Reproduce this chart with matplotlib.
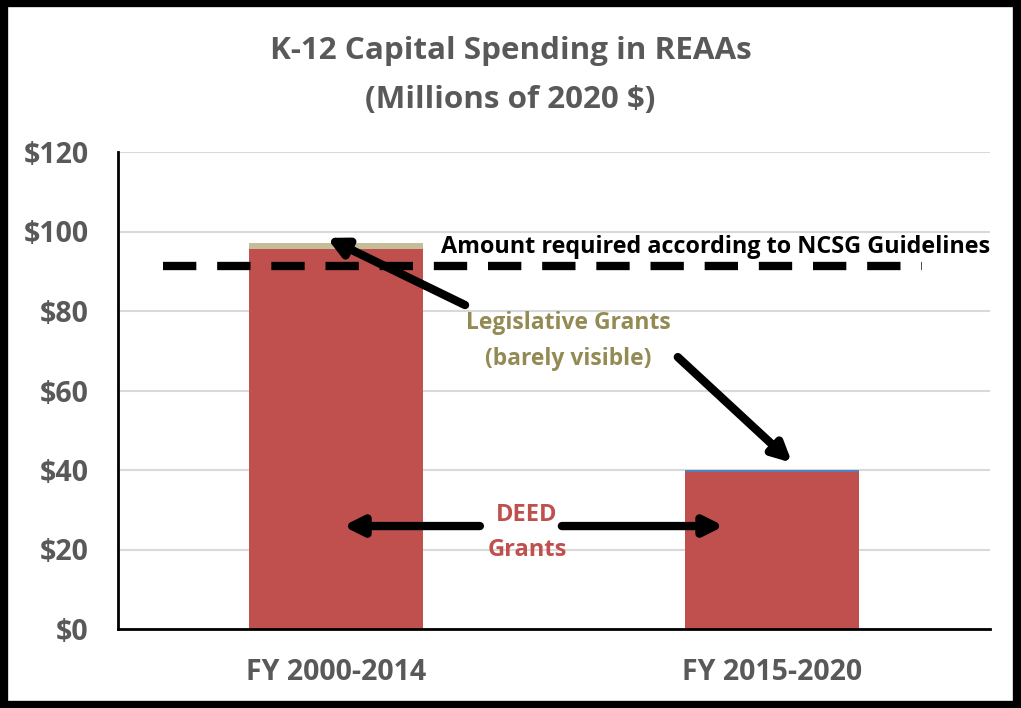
import matplotlib
matplotlib.use("Agg")
import matplotlib.pyplot as plt
from matplotlib.patches import Rectangle

# spending in millions of 2020 dollars
periods = ["FY 2000-2014", "FY 2015-2020"]
deed_grants = [95.7, 39.5]
legislative_grants = [1.5, 0.0]
other_grants = [0.0, 0.6]
ncsg_required = 91.2

red = "#C0504D"
tan = "#C4BD97"
blue = "#4F81BD"
gray = "#595959"
olive = "#948A54"

plt.rcParams["font.family"] = ["Open Sans", "DejaVu Sans"]
plt.rcParams["font.weight"] = "bold"

fig = plt.figure(figsize=(10.21, 7.08), dpi=100)
ax = fig.add_axes([118 / 1021, 1 - 629 / 708, 872 / 1021, 477 / 708])

x = list(range(len(periods)))
ax.bar(x, deed_grants, width=0.4, color=red, zorder=2)
ax.bar(x, legislative_grants, width=0.4, bottom=deed_grants, color=tan, zorder=2)
tops = [d + l for d, l in zip(deed_grants, legislative_grants)]
ax.bar(x, other_grants, width=0.4, bottom=tops, color=blue, zorder=2)

ax.set_xlim(-0.5, 1.5)
ax.set_ylim(0, 120)
ax.set_yticks(range(0, 121, 20))
ax.set_yticklabels([f"${v}" for v in range(0, 121, 20)])
ax.set_xticks(x)
ax.set_xticklabels(periods)
ax.tick_params(axis="both", length=0, labelsize=20.5, labelcolor=gray)
ax.tick_params(axis="y", pad=21)
ax.tick_params(axis="x", pad=21)
ax.grid(axis="y", color="#D9D9D9", linewidth=1.5, zorder=0)
for side in ["top", "right"]:
    ax.spines[side].set_visible(False)
ax.spines["left"].set_linewidth(2)
ax.spines["bottom"].set_linewidth(2)

# guideline amount
ax.plot([-0.397, 1.344], [ncsg_required, ncsg_required], color="black",
        linewidth=6, linestyle=(0, (4, 2.5)), solid_capstyle="butt",
        dash_capstyle="butt", zorder=3)
ax.text(1.5, 96.2, "Amount required according to NCSG Guidelines",
        ha="right", va="center", fontsize=16.8, fontweight="bold", color="black")

ax.text(0.532, 72.5, "Legislative Grants\n(barely visible)", ha="center",
        va="center", fontsize=16.5, fontweight="bold", color=olive, linespacing=1.65)
ax.text(0.438, 24.2, "DEED\nGrants", ha="center", va="center",
        fontsize=17, fontweight="bold", color=red, linespacing=1.6)

arrow = dict(arrowstyle="-|>,head_length=1.1,head_width=0.55", color="black",
             linewidth=6, shrinkA=0, shrinkB=0)
ax.annotate("", xy=(-0.021, 98.4), xytext=(0.296, 81.5), arrowprops=arrow, zorder=4)
ax.annotate("", xy=(1.046, 41.8), xytext=(0.784, 68.4), arrowprops=arrow, zorder=4)
ax.annotate("", xy=(0.016, 25.9), xytext=(0.33, 25.9), arrowprops=arrow, zorder=4)
ax.annotate("", xy=(0.89, 25.9), xytext=(0.518, 25.9), arrowprops=arrow, zorder=4)

fig.text(0.5, 1 - 75.5 / 708, "K-12 Capital Spending in REAAs\n(Millions of 2020 $)",
         ha="center", va="center", fontsize=22.6, fontweight="bold", color=gray,
         linespacing=1.8)

fig.patches.append(Rectangle((4 / 1021, 3 / 708), 1013 / 1021, 702 / 708,
                             transform=fig.transFigure, fill=False,
                             edgecolor="black", linewidth=6))

fig.savefig("out.png", dpi=100)
